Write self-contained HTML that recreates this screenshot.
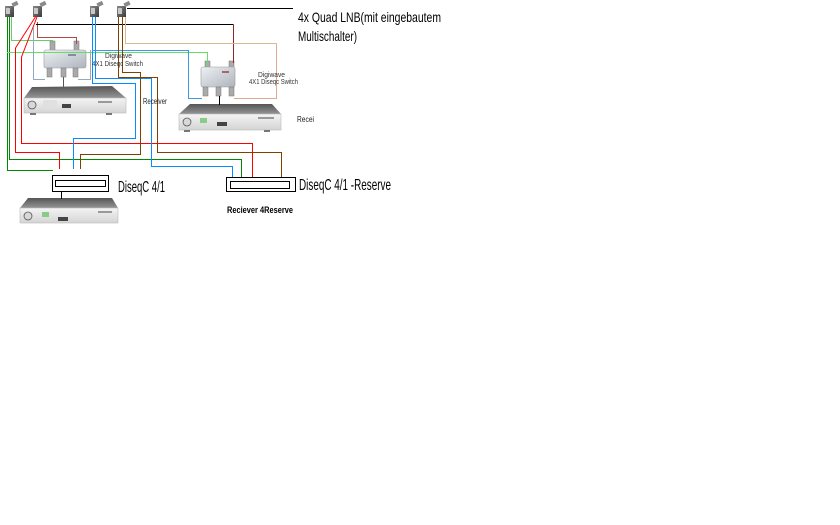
<!DOCTYPE html>
<html><head><meta charset="utf-8"><style>
html,body{margin:0;padding:0;background:#fff;width:840px;height:525px;overflow:hidden}
svg{display:block}
</style></head><body>
<svg width="840" height="525" viewBox="0 0 840 525" xmlns="http://www.w3.org/2000/svg">
<defs>
<linearGradient id="tp" x1="0" y1="0" x2="0" y2="1"><stop offset="0" stop-color="#555"/><stop offset="1" stop-color="#959595"/></linearGradient>
<linearGradient id="fr" x1="0" y1="0" x2="0" y2="1"><stop offset="0" stop-color="#f4f4f4"/><stop offset="1" stop-color="#d4d4d4"/></linearGradient>
<linearGradient id="sw" x1="0" y1="0" x2="1" y2="1"><stop offset="0" stop-color="#eef1f5"/><stop offset="1" stop-color="#aeb4bc"/></linearGradient>
<linearGradient id="ln" x1="0" y1="0" x2="1" y2="1"><stop offset="0" stop-color="#8a8a8a"/><stop offset="1" stop-color="#3a3a3a"/></linearGradient>
</defs>

<!-- LNB icons -->
<g>
<g transform="translate(5,2)"><rect x="0" y="4" width="9" height="11" fill="url(#ln)"/><rect x="1" y="6" width="4" height="6" fill="#c8c8c8"/><rect x="7" y="0" width="6" height="4" fill="#8a8a8a" transform="rotate(-25 10 2)"/></g>
<g transform="translate(33,2)"><rect x="0" y="4" width="9" height="11" fill="url(#ln)"/><rect x="1" y="6" width="4" height="6" fill="#c8c8c8"/><rect x="7" y="0" width="6" height="4" fill="#8a8a8a" transform="rotate(-25 10 2)"/></g>
<g transform="translate(90,2)"><rect x="0" y="4" width="9" height="11" fill="url(#ln)"/><rect x="1" y="6" width="4" height="6" fill="#c8c8c8"/><rect x="7" y="0" width="6" height="4" fill="#8a8a8a" transform="rotate(-25 10 2)"/></g>
<g transform="translate(117,2)"><rect x="0" y="4" width="9" height="11" fill="url(#ln)"/><rect x="1" y="6" width="4" height="6" fill="#c8c8c8"/><rect x="7" y="0" width="6" height="4" fill="#8a8a8a" transform="rotate(-25 10 2)"/></g>
</g>

<!-- Receiver 1 -->
<g>
<polygon points="32,87 112,86 126,98 24,98" fill="url(#tp)"/>
<rect x="24" y="98" width="102" height="15" fill="url(#fr)" stroke="#bbb" stroke-width="0.6"/>
<circle cx="32" cy="105" r="4" fill="#d8d8d8" stroke="#555" stroke-width="0.8"/>
<rect x="43" y="100" width="14" height="9" fill="#e0e0e0"/>
<rect x="62" y="104" width="9" height="4" fill="#444"/>
<rect x="98" y="101" width="14" height="2" fill="#999"/>
<rect x="30" y="113" width="6" height="2" fill="#777"/><rect x="106" y="113" width="6" height="2" fill="#777"/>
</g>
<!-- Receiver 2 -->
<g>
<polygon points="190,104 272,104 281,114 179,114" fill="url(#tp)"/>
<rect x="179" y="114" width="102" height="16" fill="url(#fr)" stroke="#bbb" stroke-width="0.6"/>
<circle cx="187" cy="122" r="4" fill="#d8d8d8" stroke="#555" stroke-width="0.8"/>
<rect x="200" y="118" width="7" height="5" fill="#8c8"/>
<rect x="217" y="122" width="10" height="4" fill="#444"/>
<rect x="258" y="117" width="16" height="2" fill="#999"/>
<rect x="184" y="130" width="6" height="2" fill="#777"/><rect x="264" y="130" width="6" height="2" fill="#777"/>
</g>
<!-- Receiver 3 -->
<g>
<polygon points="28,198 112,198 118,208 20,208" fill="url(#tp)"/>
<rect x="20" y="208" width="98" height="15" fill="url(#fr)" stroke="#bbb" stroke-width="0.6"/>
<circle cx="28" cy="216" r="4" fill="#d8d8d8" stroke="#555" stroke-width="0.8"/>
<rect x="42" y="212" width="7" height="5" fill="#8c8"/>
<rect x="58" y="217" width="10" height="4" fill="#444"/>
<rect x="98" y="211" width="14" height="2" fill="#999"/>
</g>

<!-- Switch 1 -->
<g>
<rect x="50" y="41" width="5" height="11" fill="#aaa" stroke="#777" stroke-width="0.5"/>
<rect x="74" y="41" width="5" height="11" fill="#aaa" stroke="#777" stroke-width="0.5"/>
<rect x="44" y="50" width="42" height="18" rx="2" fill="url(#sw)" stroke="#999" stroke-width="0.6"/>
<rect x="68" y="54" width="8" height="2" fill="#88a"/>
<rect x="47" y="68" width="5" height="9" fill="#aaa" stroke="#777" stroke-width="0.5"/>
<rect x="61" y="68" width="5" height="9" fill="#aaa" stroke="#777" stroke-width="0.5"/>
<rect x="73" y="68" width="5" height="9" fill="#aaa" stroke="#777" stroke-width="0.5"/>
</g>
<!-- Switch 2 -->
<g>
<rect x="205" y="61" width="5" height="7" fill="#aaa" stroke="#777" stroke-width="0.5"/>
<rect x="229" y="61" width="5" height="7" fill="#aaa" stroke="#777" stroke-width="0.5"/>
<rect x="201" y="67" width="34" height="20" rx="2" fill="url(#sw)" stroke="#999" stroke-width="0.6"/>
<rect x="222" y="71" width="7" height="2" fill="#a66"/>
<rect x="203" y="87" width="5" height="9" fill="#aaa" stroke="#777" stroke-width="0.5"/>
<rect x="216" y="87" width="5" height="9" fill="#aaa" stroke="#777" stroke-width="0.5"/>
<rect x="229" y="87" width="5" height="9" fill="#aaa" stroke="#777" stroke-width="0.5"/>
</g>

<!-- Cables -->
<g fill="none" stroke-width="1" shape-rendering="crispEdges">
<polyline points="7.5,17 7.5,170.5 53,170.5" stroke="#008a00"/>
<polyline points="9.5,17 9.5,159.5 241.5,159.5 241.5,177" stroke="#008a00"/>
<polyline points="11.5,17 11.5,40.5 52.5,40.5 52.5,44" stroke="#66cc66"/>
<polyline points="7,52.5 207.5,52.5 207.5,66" stroke="#66dd66"/>
<polyline points="36,16 15.5,48 15.5,152.5 59.5,152.5 59.5,169" stroke="#ff0000" shape-rendering="auto"/>
<polyline points="37,17 21.5,57 21.5,143.5 252.5,143.5 252.5,177" stroke="#ff0000" shape-rendering="auto"/>
<polyline points="37.5,22 37.5,37.5 76.5,37.5 76.5,44" stroke="#b04848"/>
<polyline points="33.5,27 33.5,79.5 45,79.5" stroke="#90a8c0"/>
<polyline points="90.5,50 90.5,79.5 78,79.5" stroke="#a0a8b0"/>
<polyline points="127,8.5 293,8.5" stroke="#000"/>
<polyline points="36,24.5 233.5,24.5" stroke="#000"/>
<polyline points="233.5,24.5 233.5,63" stroke="#8a2a2a"/>
<polyline points="92.5,17 92.5,83.5 135.5,83.5 135.5,138.5 73.5,138.5 73.5,169" stroke="#0a8cff"/>
<polyline points="95.5,17 95.5,78.5 151.5,78.5 151.5,166.5 232.5,166.5 232.5,177" stroke="#0a8cff"/>
<polyline points="92,50.5 188.5,50.5 188.5,98.5 202,98.5" stroke="#3a9ae8"/>
<polyline points="122.5,17 122.5,72.5 140.5,72.5 140.5,154.5 80.5,154.5 80.5,169" stroke="#804000"/>
<polyline points="118.5,17 118.5,77.5 157.5,77.5 157.5,152.5 281.5,152.5 281.5,177" stroke="#804000"/>
<polyline points="125.5,17 125.5,43.5 276.5,43.5" stroke="#dcb890"/>
<polyline points="276.5,43.5 276.5,98.5 234,98.5" stroke="#e0a898"/>
<line x1="63.5" y1="77" x2="63.5" y2="87" stroke="#555"/>
<line x1="219.5" y1="96" x2="219.5" y2="105" stroke="#000"/>
<line x1="61.5" y1="192" x2="61.5" y2="199" stroke="#000"/>
</g>

<!-- DiseqC boxes -->
<g fill="#fff" stroke="#000" stroke-width="1" shape-rendering="crispEdges">
<rect x="52.5" y="175.5" width="56" height="16"/>
<rect x="55.5" y="180.5" width="50" height="6"/>
<rect x="226.5" y="177.5" width="69" height="14"/>
<rect x="230.5" y="181.5" width="59" height="7"/>
</g>

<!-- Labels -->
<g font-family="'Liberation Sans', sans-serif">
<text x="298" y="22" font-size="14" textLength="143" lengthAdjust="spacingAndGlyphs" fill="#000">4x Quad LNB(mit eingebautem</text>
<text x="298" y="41" font-size="14" textLength="59" lengthAdjust="spacingAndGlyphs" fill="#000">Multischalter)</text>
<text x="118" y="192" font-size="16" textLength="47" lengthAdjust="spacingAndGlyphs" fill="#000">DiseqC 4/1</text>
<text x="299" y="190" font-size="16" textLength="92" lengthAdjust="spacingAndGlyphs" fill="#000">DiseqC 4/1 -Reserve</text>
<text x="227" y="213" font-size="9" font-weight="bold" textLength="66" lengthAdjust="spacingAndGlyphs" fill="#000">Reciever 4Reserve</text>
<text x="105" y="58" font-size="7" textLength="27" lengthAdjust="spacingAndGlyphs" fill="#333">Digiwave</text>
<text x="92" y="66" font-size="7" textLength="51" lengthAdjust="spacingAndGlyphs" fill="#333">4X1 Diseqc Switch</text>
<text x="258" y="77" font-size="7" textLength="27" lengthAdjust="spacingAndGlyphs" fill="#333">Digiwave</text>
<text x="249" y="84" font-size="7" textLength="49" lengthAdjust="spacingAndGlyphs" fill="#333">4X1 Diseqc Switch</text>
<text x="143" y="104" font-size="8" textLength="24" lengthAdjust="spacingAndGlyphs" fill="#222">Receiver</text>
<text x="297" y="122" font-size="8" textLength="17" lengthAdjust="spacingAndGlyphs" fill="#222">Recei</text>
</g>
</svg>
</body></html>
